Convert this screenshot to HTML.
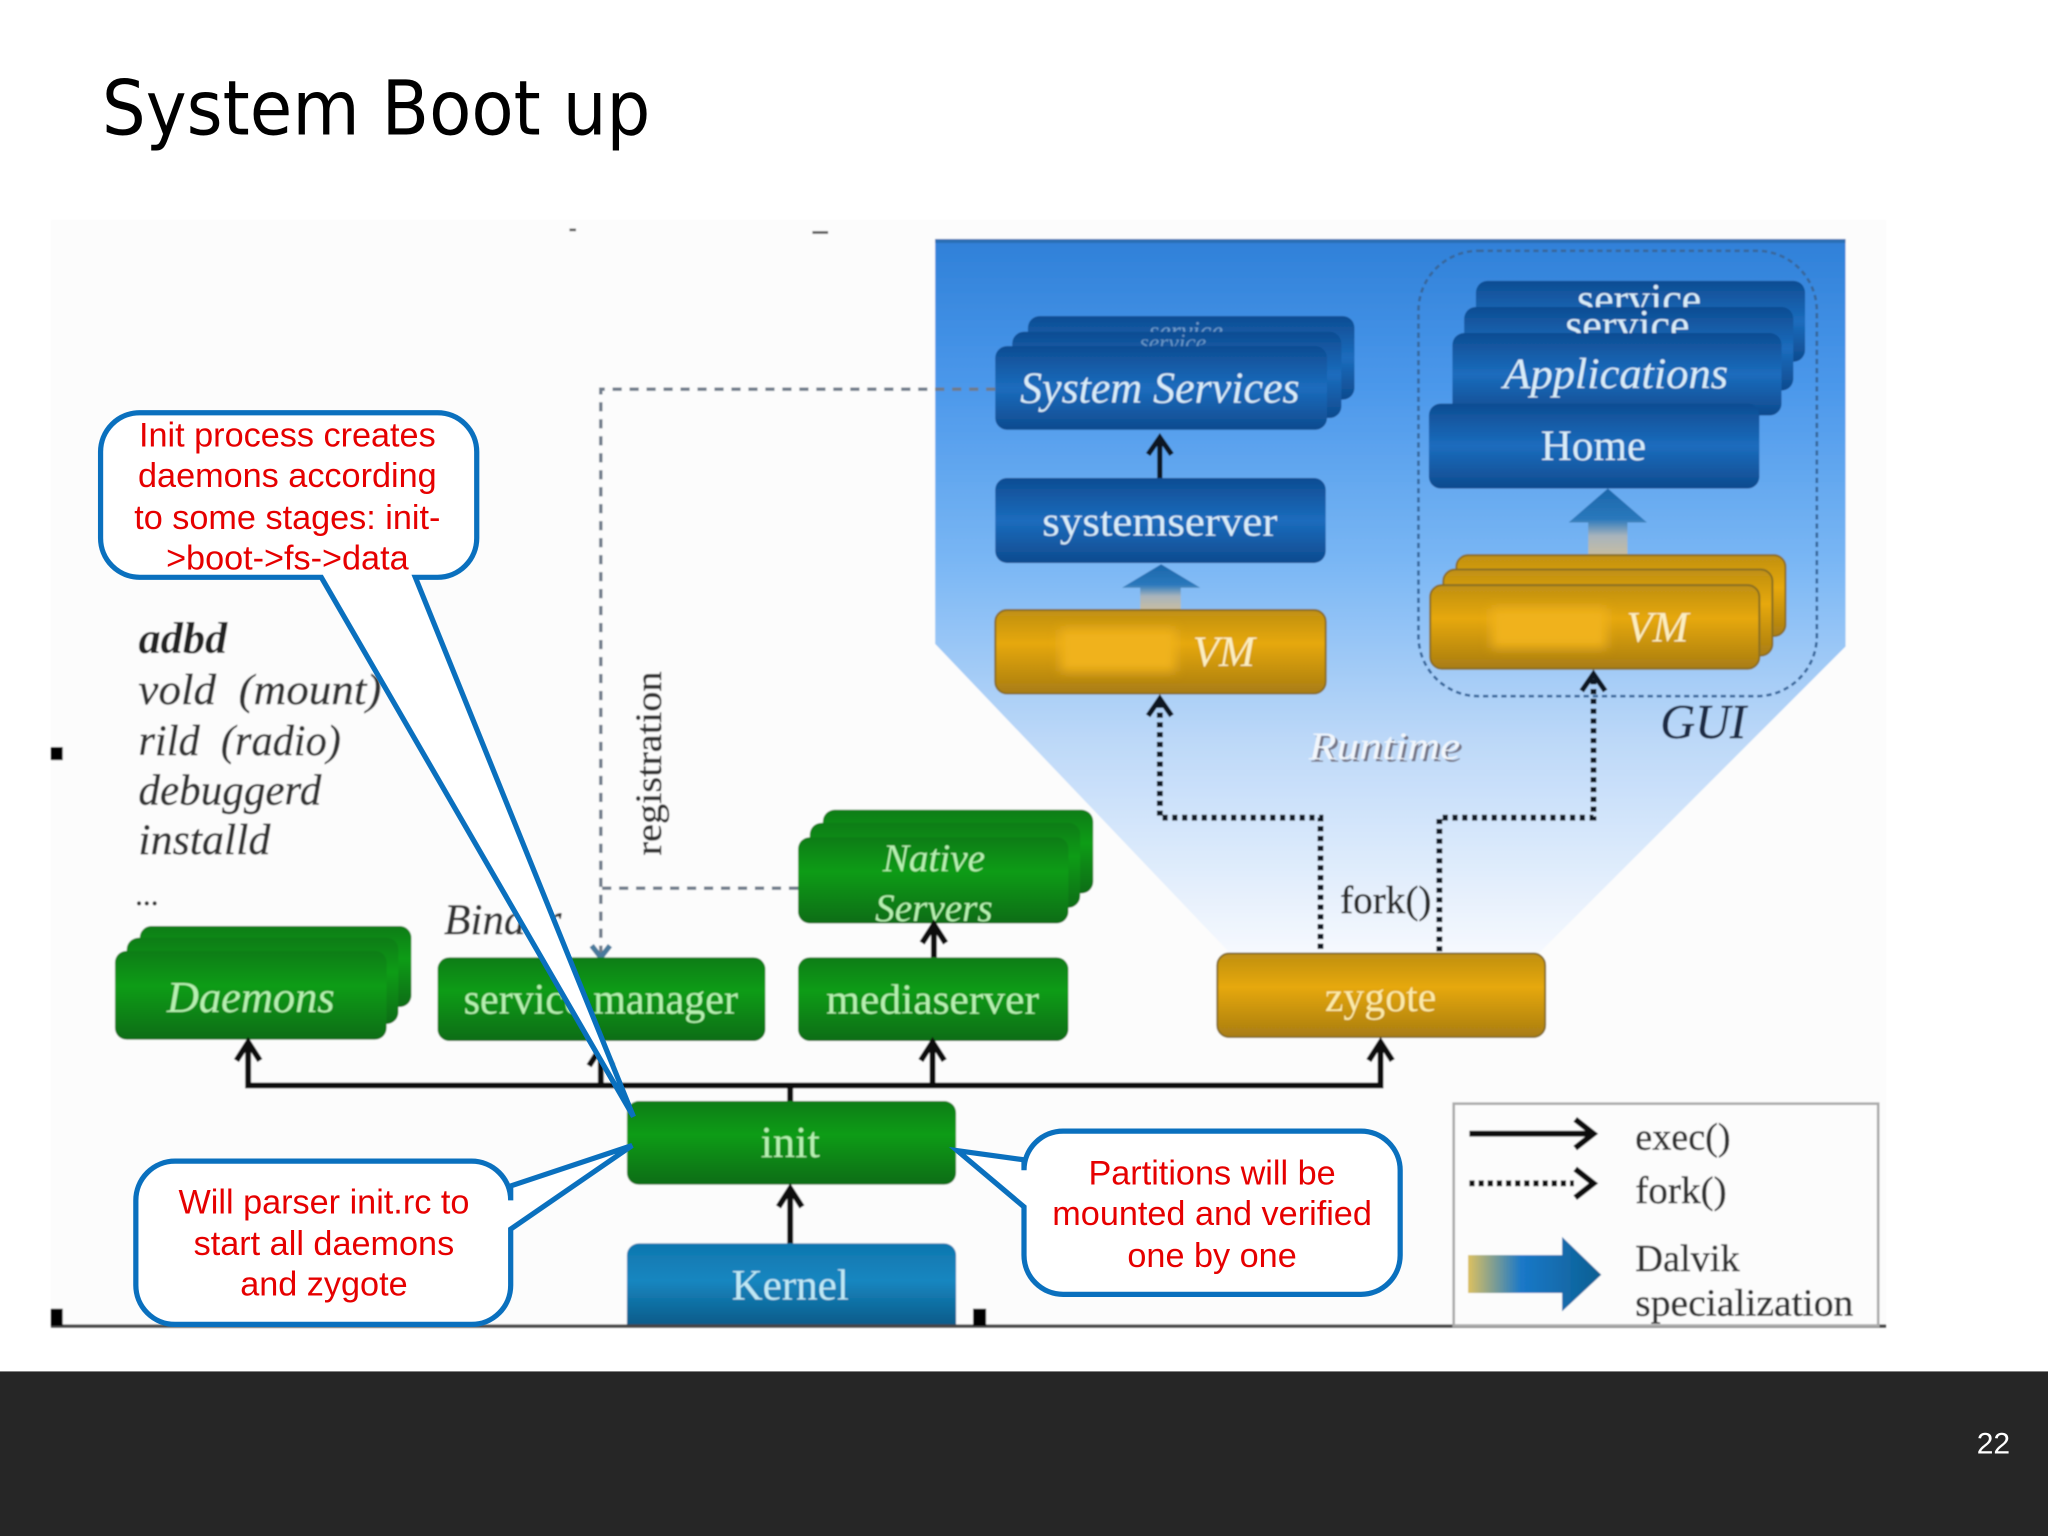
<!DOCTYPE html>
<html>
<head>
<meta charset="utf-8">
<style>
html,body{margin:0;padding:0;background:#fff;width:2048px;height:1536px;overflow:hidden}
svg{display:block}
.s{font-family:"Liberation Serif",serif}
.i{font-style:italic}
.a{font-family:"Liberation Sans",sans-serif;fill:#e60000;font-size:26.2px;text-anchor:middle}
.w{fill:#d8ecf8;text-anchor:middle}
.g{fill:#b6f0b0;text-anchor:middle}
.d{fill:#2c2c2c}
.h{stroke:currentColor;stroke-width:.35px}
</style>
</head>
<body>
<svg width="2048" height="1536" viewBox="0 0 1568 1176" xmlns="http://www.w3.org/2000/svg">
<defs>
<linearGradient id="bg" x1="0" y1="0" x2="0" y2="1">
<stop offset="0" stop-color="#2f80d8"/><stop offset=".2" stop-color="#4a97ea"/><stop offset=".45" stop-color="#79b6f4"/><stop offset=".7" stop-color="#bcd8f8"/><stop offset="1" stop-color="#f6f9fe"/>
</linearGradient>
<linearGradient id="bl" x1="0" y1="0" x2="0" y2="1">
<stop offset="0" stop-color="#0e4c92"/><stop offset=".5" stop-color="#1b6cbd"/><stop offset="1" stop-color="#0e4a8e"/>
</linearGradient>
<linearGradient id="gr" x1="0" y1="0" x2="0" y2="1">
<stop offset="0" stop-color="#0a7c14"/><stop offset=".4" stop-color="#109c18"/><stop offset="1" stop-color="#0b6c12"/>
</linearGradient>
<linearGradient id="ye" x1="0" y1="0" x2="0" y2="1">
<stop offset="0" stop-color="#bf8f12"/><stop offset=".4" stop-color="#e6a80e"/><stop offset="1" stop-color="#a87c12"/>
</linearGradient>
<linearGradient id="ke" x1="0" y1="0" x2="0" y2="1">
<stop offset="0" stop-color="#0f76ae"/><stop offset=".45" stop-color="#1686c0"/><stop offset="1" stop-color="#0a5a88"/>
</linearGradient>
<linearGradient id="up" x1="0" y1="1" x2="0" y2="0">
<stop offset="0" stop-color="#c8bda0"/><stop offset=".3" stop-color="#a8b4bc"/><stop offset=".55" stop-color="#2a78bc"/><stop offset="1" stop-color="#1a66aa"/>
</linearGradient>
<linearGradient id="lg" x1="0" y1="0" x2="1" y2="0">
<stop offset="0" stop-color="#dcc060"/><stop offset=".4" stop-color="#1a78c8"/><stop offset="1" stop-color="#0c5f92"/>
</linearGradient>
<filter id="soft" x="-2%" y="-2%" width="104%" height="104%"><feGaussianBlur stdDeviation=".55"/></filter>
<filter id="blur4" x="-20%" y="-40%" width="140%" height="180%"><feGaussianBlur stdDeviation="4"/></filter>
</defs>

<rect width="1568" height="1176" fill="#fff"/>
<text x="78" y="103" font-family="'DejaVu Sans',sans-serif" font-size="58" fill="#000" textLength="420" lengthAdjust="spacingAndGlyphs">System Boot up</text>

<g filter="url(#soft)">
<rect x="39" y="168" width="1405" height="848" fill="#fcfcfc"/>
<rect x="436" y="175" width="5" height="2" fill="#555"/>
<rect x="622" y="177" width="12" height="2" fill="#555"/>
<polygon points="716,183 1413,183 1413,495 1178,730 942,730 716,493" fill="url(#bg)"/>
<rect x="716" y="183" width="697" height="3" fill="#2a6eb4"/>

<!-- gray dashed -->
<g fill="none" stroke="#6f7c8a" stroke-width="2.6" stroke-dasharray="7 6">
<path d="M762 298H460V730"/>
<path d="M611 680H460"/>
</g>
<path d="M453 724L460 733L467 724" fill="none" stroke="#4a7a9c" stroke-width="4"/>

<!-- GUI group -->
<rect x="1086" y="192" width="305" height="341" rx="46" fill="none" stroke="#37679c" stroke-width="2" stroke-dasharray="4 3"/>

<!-- System Services stack -->
<rect x="787" y="242" width="250" height="64" rx="9" fill="url(#bl)"/>
<text class="s i" x="908" y="260" font-size="20" fill="#b9d5ee" text-anchor="middle" opacity=".55">service</text>
<rect x="775" y="254" width="252" height="66" rx="9" fill="url(#bl)"/>
<text class="s i" x="898" y="268" font-size="18" fill="#b9d5ee" text-anchor="middle" opacity=".5">service</text>
<rect x="762" y="265" width="254" height="64" rx="9" fill="url(#bl)"/>
<text class="s i w" x="888" y="308" font-size="34" textLength="214" lengthAdjust="spacingAndGlyphs">System Services</text>

<!-- systemserver -->
<rect x="762" y="366" width="253" height="65" rx="9" fill="url(#bl)"/>
<text class="s w" x="888" y="410" font-size="32" textLength="180" lengthAdjust="spacingAndGlyphs">systemserver</text>

<!-- Applications stack -->
<rect x="1130" y="215" width="252" height="62" rx="9" fill="url(#bl)"/>
<text class="s" x="1255" y="240" font-size="33" fill="#d8ecf8" text-anchor="middle" textLength="95" lengthAdjust="spacingAndGlyphs">service</text>
<rect x="1121" y="235" width="252" height="64" rx="9" fill="url(#bl)"/>
<text class="s" x="1246" y="260" font-size="33" fill="#d8ecf8" text-anchor="middle" textLength="95" lengthAdjust="spacingAndGlyphs">service</text>
<rect x="1112" y="255" width="252" height="63" rx="9" fill="url(#bl)"/>
<text class="s i w" x="1237" y="297" font-size="33" textLength="172" lengthAdjust="spacingAndGlyphs">Applications</text>
<rect x="1094" y="309" width="253" height="65" rx="9" fill="url(#bl)"/>
<text class="s w" x="1220" y="352" font-size="33">Home</text>

<!-- block arrows -->
<polygon points="889,432 919,450 904,450 904,467 873,467 873,450 859,450" fill="url(#up)"/>
<polygon points="1231,374 1261,400 1246,400 1246,426 1216,426 1216,400 1201,400" fill="url(#up)"/>

<!-- yellow VM -->
<rect x="762" y="467" width="253" height="64" rx="9" fill="url(#ye)" stroke="#8a7020" stroke-width="1.5"/>
<rect x="812" y="482" width="88" height="32" fill="#f0b21a" filter="url(#blur4)"/>
<text class="s i" x="937" y="510" font-size="33" fill="#fbeec0" text-anchor="middle">VM</text>

<rect x="1115" y="425" width="252" height="62" rx="9" fill="url(#ye)" stroke="#8a7020" stroke-width="1.5"/>
<rect x="1105" y="436" width="252" height="66" rx="9" fill="url(#ye)" stroke="#8a7020" stroke-width="1.5"/>
<rect x="1095" y="448" width="252" height="64" rx="9" fill="url(#ye)" stroke="#8a7020" stroke-width="1.5"/>
<rect x="1142" y="466" width="88" height="30" fill="#f0b21a" filter="url(#blur4)"/>
<text class="s i" x="1269" y="491" font-size="33" fill="#fbeec0" text-anchor="middle">VM</text>

<!-- arrows black -->
<g fill="none" stroke="#0c1424" stroke-width="4">
<path d="M888 366V338"/>
<path d="M879 348L888 335L897 348"/>
<path d="M879 548L888 535L897 548"/>
<path d="M1211 529L1220 516L1229 529"/>
</g>
<g fill="none" stroke="#101820" stroke-width="4.5" stroke-dasharray="4 3.5">
<path d="M888 538V626H1011V730"/>
<path d="M1220 520V626H1102V730"/>
</g>

<text class="s i" x="1304" y="565" font-size="37" fill="#1d2c44" text-anchor="middle" style="color:#1d2c44"><tspan class="h">GUI</tspan></text>
<text class="s i" x="1062" y="583" font-size="30" fill="#778" text-anchor="middle" textLength="116" lengthAdjust="spacingAndGlyphs">Runtime</text>
<text class="s i" x="1060" y="581" font-size="30" fill="#f2f6fb" text-anchor="middle" textLength="116" lengthAdjust="spacingAndGlyphs">Runtime</text>
<text class="s d h" x="1061" y="699" font-size="30" text-anchor="middle" style="color:#2c2c2c">fork()</text>

<!-- Left text -->
<text class="s i" x="106" y="500" font-size="34" font-weight="bold" fill="#222">adbd</text>
<g class="s i h" font-size="33" fill="#333" style="color:#333">
<text x="106" y="539" textLength="186" lengthAdjust="spacingAndGlyphs" xml:space="preserve">vold  (mount)</text>
<text x="106" y="578" textLength="155" lengthAdjust="spacingAndGlyphs" xml:space="preserve">rild  (radio)</text>
<text x="106" y="616" textLength="140" lengthAdjust="spacingAndGlyphs">debuggerd</text>
<text x="106" y="654" textLength="101" lengthAdjust="spacingAndGlyphs">installd</text>
<text x="104" y="693" font-size="24">...</text>
</g>
<text class="s i h" x="340" y="715" font-size="33" fill="#333" style="color:#333">Binder</text>
<text class="s h" transform="translate(506,655) rotate(-90)" font-size="28" fill="#333" style="color:#333" textLength="141" lengthAdjust="spacingAndGlyphs">registration</text>

<!-- Native Servers -->
<rect x="630" y="620" width="207" height="64" rx="9" fill="url(#gr)"/>
<rect x="620" y="630" width="207" height="65" rx="9" fill="url(#gr)"/>
<rect x="611" y="641" width="207" height="66" rx="9" fill="url(#gr)"/>
<text class="s i g" x="715" y="667" font-size="30">Native</text>
<text class="s i g" x="715" y="705" font-size="30">Servers</text>

<!-- Daemons -->
<rect x="107" y="709" width="208" height="62" rx="9" fill="url(#gr)"/>
<rect x="97" y="718" width="208" height="66" rx="9" fill="url(#gr)"/>
<rect x="88" y="728" width="208" height="68" rx="9" fill="url(#gr)"/>
<text class="s i g" x="192" y="775" font-size="34">Daemons</text>

<!-- green boxes -->
<rect x="335" y="733" width="251" height="64" rx="9" fill="url(#gr)"/>
<text class="s g" x="460" y="776" font-size="33" textLength="210" lengthAdjust="spacingAndGlyphs">service manager</text>
<rect x="611" y="733" width="207" height="64" rx="9" fill="url(#gr)"/>
<text class="s g" x="714" y="776" font-size="32" textLength="163" lengthAdjust="spacingAndGlyphs">mediaserver</text>

<!-- zygote -->
<rect x="932" y="730" width="251" height="64" rx="9" fill="url(#ye)" stroke="#8a7020" stroke-width="1.5"/>
<text class="s" x="1057" y="774" font-size="32" fill="#fbeaa8" text-anchor="middle">zygote</text>

<!-- init & kernel -->
<rect x="480" y="843" width="252" height="64" rx="9" fill="url(#gr)"/>
<text class="s g" x="605" y="886" font-size="34">init</text>
<path d="M480 1015V961a9 9 0 0 1 9-9h234a9 9 0 0 1 9 9v54z" fill="url(#ke)"/>
<text class="s" x="605" y="995" font-size="33" fill="#bfe8f4" text-anchor="middle">Kernel</text>

<!-- exec lines -->
<g fill="none" stroke="#0a0a0a" stroke-width="4.5">
<path d="M190 800V831H1057V800"/>
<path d="M460 831V805M714 831V800M605 831V843"/>
<path d="M605 952V912" />
<path d="M715 733V710"/>
<path d="M181 812L190 798L199 812"/>
<path d="M451 816L460 802L469 816"/>
<path d="M705 812L714 798L723 812"/>
<path d="M1048 812L1057 798L1066 812"/>
<path d="M596 924L605 910L614 924"/>
<path d="M706 722L715 708L724 722"/>
</g>

<!-- base line -->
<rect x="39" y="1014" width="1405" height="2.5" fill="#444"/>
<rect x="39" y="572" width="9" height="10" fill="#000"/>
<rect x="39" y="1002" width="9" height="13" fill="#000"/>
<rect x="745" y="1002" width="10" height="13" fill="#000"/>

<!-- legend -->
<rect x="1113" y="845" width="325" height="170" fill="none" stroke="#aaa" stroke-width="2"/>
<g fill="none" stroke="#0a0a0a" stroke-width="4.5">
<path d="M1125 868H1218"/>
<path d="M1206 857L1220 868L1206 879"/>
<path d="M1125 906H1205" stroke-dasharray="4 3"/>
<path d="M1206 895L1220 906L1206 917"/>
</g>
<polygon points="1124,961 1196,961 1196,947 1226,976 1196,1004 1196,990 1124,990" fill="url(#lg)"/>
<g class="s h" font-size="29" fill="#333" style="color:#333">
<text x="1252" y="880" textLength="73" lengthAdjust="spacingAndGlyphs">exec()</text>
<text x="1252" y="921" textLength="70" lengthAdjust="spacingAndGlyphs">fork()</text>
<text x="1252" y="973" textLength="80" lengthAdjust="spacingAndGlyphs">Dalvik</text>
<text x="1252" y="1007" textLength="167" lengthAdjust="spacingAndGlyphs">specialization</text>
</g>
</g>

<!-- callouts -->
<g fill="#fff" stroke="#0a70be" stroke-width="4" stroke-linejoin="miter">
<path d="M107 316H335a30 30 0 0 1 30 30V412a30 30 0 0 1 -30 30H318L485 855L246 442H107a30 30 0 0 1 -30 -30V346a30 30 0 0 1 30 -30z"/>
<path d="M134 889H361a30 30 0 0 1 30 30L391 908L484 877L391 941V984a30 30 0 0 1 -30 30H134a30 30 0 0 1 -30 -30V919a30 30 0 0 1 30 -30z"/>
<path d="M814 866H1042a30 30 0 0 1 30 30V961a30 30 0 0 1 -30 30H814a30 30 0 0 1 -30 -30V924L733 881L784 888V896a30 30 0 0 1 30 -30z"/>
</g>
<text class="a" x="220" y="342">Init process creates</text>
<text class="a" x="220" y="373">daemons according</text>
<text class="a" x="220" y="405">to some stages: init-</text>
<text class="a" x="220" y="436">&gt;boot-&gt;fs-&gt;data</text>
<text class="a" x="248" y="929">Will parser init.rc to</text>
<text class="a" x="248" y="961">start all daemons</text>
<text class="a" x="248" y="992">and zygote</text>
<text class="a" x="928" y="907">Partitions will be</text>
<text class="a" x="928" y="938">mounted and verified</text>
<text class="a" x="928" y="970">one by one</text>

<!-- footer -->
<rect x="0" y="1050" width="1568" height="126" fill="#262626"/>
<text x="1539" y="1113" font-family="'Liberation Sans',sans-serif" font-size="23" fill="#fff" text-anchor="end">22</text>
</svg>
</body>
</html>
